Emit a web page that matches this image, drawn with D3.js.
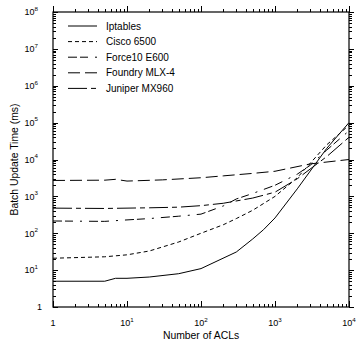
<!DOCTYPE html>
<html>
<head>
<meta charset="utf-8">
<script src="https://cdn.jsdelivr.net/npm/d3@7"></script>
<style>
  html, body { margin: 0; padding: 0; background: #fff; }
  svg { display: block; font-family: "Liberation Sans", Arial, Helvetica, sans-serif; }
</style>
</head>
<body>
<svg id="chart" width="356" height="344"></svg>
<script>
// values (ms)
const iptablesX = [1, 5, 7, 10, 20, 50, 100, 300, 500, 700, 1000, 2000, 5000, 10000]
const iptablesY = [5, 5, 6, 6, 6.5, 8, 11, 31, 70, 125, 260, 1600, 20000, 100000]

const ciscoX = [1, 5, 10, 20, 50, 100, 200, 300, 500, 1000, 2000, 5000, 10000]
const ciscoY = [21, 23, 26, 33, 58, 100, 170, 250, 420, 1000, 3200, 25000, 85000]

const force10X = [1, 5, 10, 20, 50, 100, 200, 300, 500, 1000, 2000, 3000, 5000, 10000]
const force10Y = [215, 210, 230, 250, 290, 330, 550, 850, 1200, 2000, 4000, 7000, 18000, 60000]

const foundryX = [1, 5, 7, 10, 30, 100, 200, 500, 1000, 3000, 10000]
const foundryY = [2700, 2750, 2900, 2600, 2800, 3200, 3600, 4200, 4800, 7600, 10000]

const juniperX = [1, 5, 10, 20, 50, 100, 200, 500, 1000, 2000, 5000, 10000]
const juniperY = [480, 470, 480, 490, 510, 560, 650, 900, 1300, 3000, 12000, 40000]

const seriesNames = ['Iptables', 'Cisco 6500', 'Force10 E600', 'Foundry MLX-4', 'Juniper MX960']
const seriesX = [iptablesX, ciscoX, force10X, foundryX, juniperX]
const seriesY = [iptablesY, ciscoY, force10Y, foundryY, juniperY]
const dashes = ['none', '4,3', '9,3,8,7,2,7', '12,5', '19,4,5,4']

const xExtent = [1, 1e4]
const yExtent = [1, 1e8]

const svg = d3.select('#chart')
const pL = 53, pR = 349, pT = 12, pB = 307

const x = d3.scaleLog().domain(xExtent).range([pL, pR])
const y = d3.scaleLog().domain(yExtent).range([pB, pT])

const isMajor = (v) => Math.abs(Math.log10(v) - Math.round(Math.log10(v))) < 1e-9

svg.append('defs').append('clipPath').attr('id', 'plot')
  .append('rect').attr('x', pL).attr('y', pT).attr('width', pR - pL).attr('height', pB - pT)

// series
const line = d3.line().x((d) => x(d[0])).y((d) => y(d[1]))
const g = svg.append('g').attr('clip-path', 'url(#plot)')
seriesNames.forEach((name, i) => {
  const pts = seriesX[i].map((v, j) => [v, seriesY[i][j]])
  g.append('path')
    .datum(pts)
    .attr('d', line)
    .attr('fill', 'none')
    .attr('stroke', '#000')
    .attr('stroke-width', 1)
    .attr('stroke-dasharray', dashes[i])
})

// frame
svg.append('rect')
  .attr('x', pL).attr('y', pT)
  .attr('width', pR - pL).attr('height', pB - pT)
  .attr('fill', 'none').attr('stroke', '#000').attr('stroke-width', 1.2)

// ticks: left/bottom inward, right/top outward (all point +x / -y)
const xt = x.ticks()
const yt = y.ticks()
const ticks = svg.append('g').attr('stroke', '#000').attr('stroke-width', 1)
xt.forEach((v) => {
  const len = isMajor(v) ? 6 : 3
  const px = Math.round(x(v)) + 0.5
  ticks.append('line').attr('x1', px).attr('x2', px).attr('y1', pB).attr('y2', pB - len)
  ticks.append('line').attr('x1', px).attr('x2', px).attr('y1', pT).attr('y2', pT - len)
})
yt.forEach((v) => {
  const len = isMajor(v) ? 5 : 3
  const py = Math.round(y(v)) + 0.5
  ticks.append('line').attr('x1', pL).attr('x2', pL + len).attr('y1', py).attr('y2', py)
  ticks.append('line').attr('x1', pR).attr('x2', pR + len).attr('y1', py).attr('y2', py)
})

function powLabel(sel, v) {
  const e = Math.round(Math.log10(v))
  if (e === 0) { sel.text('1'); return }
  sel.append('tspan').text('10')
  sel.append('tspan').attr('dy', -4.5).attr('font-size', 6.2).text(e)
}

// x tick labels
xt.filter(isMajor).forEach((v) => {
  const t = svg.append('text')
    .attr('x', x(v)).attr('y', 326)
    .attr('text-anchor', 'middle')
    .attr('font-size', 9)
  powLabel(t, v)
})

// y tick labels
yt.filter(isMajor).forEach((v) => {
  const e = Math.round(Math.log10(v))
  const t = svg.append('text')
    .attr('x', e === 0 ? 42 : 38).attr('y', y(v) + 3.3)
    .attr('text-anchor', 'end')
    .attr('font-size', 9)
  powLabel(t, v)
})

// axis titles
svg.append('text')
  .attr('x', (pL + pR) / 2).attr('y', 339)
  .attr('text-anchor', 'middle').attr('font-size', 10.4)
  .text('Number of ACLs')
svg.append('text')
  .attr('transform', `translate(18,${(pT + pB) / 2}) rotate(-90)`)
  .attr('text-anchor', 'middle').attr('font-size', 10.4)
  .text('Batch Update Time (ms)')

// legend
const legend = svg.append('g')
seriesNames.forEach((name, i) => {
  const ly = 26 + i * 15.6
  legend.append('line')
    .attr('x1', 68).attr('x2', 97).attr('y1', ly).attr('y2', ly)
    .attr('stroke', '#000').attr('stroke-width', 1)
    .attr('stroke-dasharray', dashes[i])
  legend.append('text')
    .attr('x', 106).attr('y', ly + 3.6)
    .attr('font-size', 10)
    .text(name)
})
</script>
</body>
</html>
